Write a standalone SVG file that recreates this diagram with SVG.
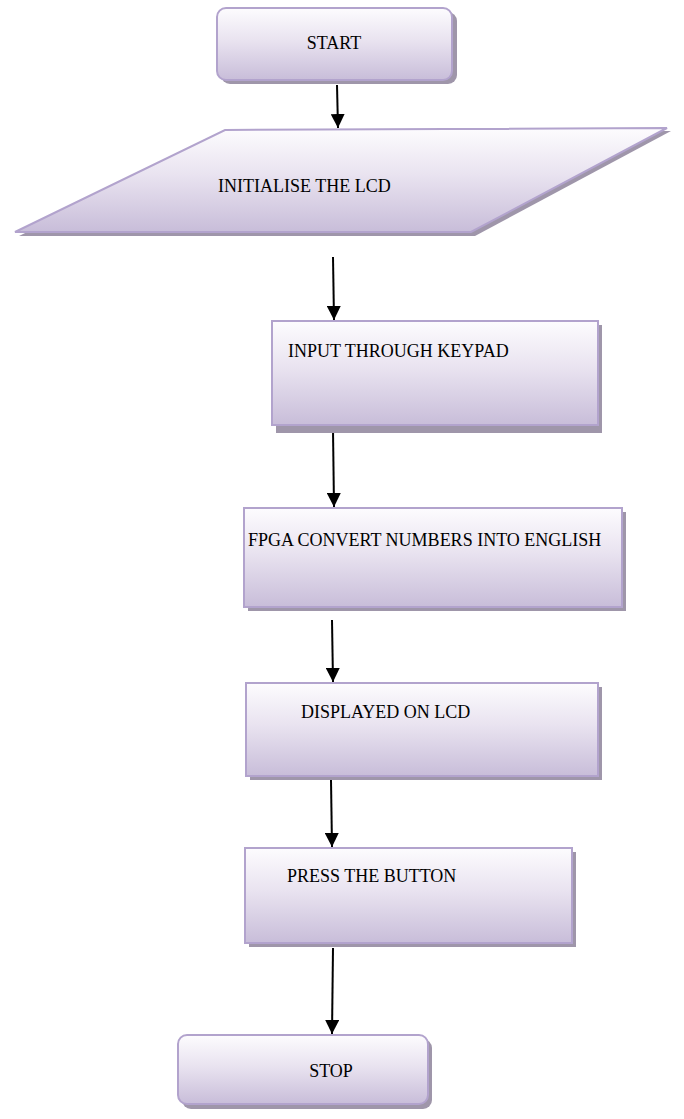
<svg xmlns="http://www.w3.org/2000/svg" width="684" height="1119" viewBox="0 0 684 1119">
  <defs>
    <linearGradient id="fill" x1="0" y1="0" x2="0" y2="1">
      <stop offset="0" stop-color="#fdfcfe"/>
      <stop offset="0.45" stop-color="#e9e3f0"/>
      <stop offset="1" stop-color="#c8bdd9"/>
    </linearGradient>
    <marker id="arrow" viewBox="0 0 14 14" refX="14" refY="7" markerWidth="14" markerHeight="14" orient="auto" markerUnits="userSpaceOnUse">
      <path d="M0,0 L14,7 L0,14 z" fill="#000"/>
    </marker>
  </defs>
  <style>
    .shadow { fill: #9f96aa; }
    .shape { fill: url(#fill); stroke: #b2a3cd; stroke-width: 2; }
    .label { font-family: "Liberation Serif", "Times New Roman", serif; font-size: 18px; fill: #000; }
    .flow { stroke: #000; stroke-width: 2; fill: none; marker-end: url(#arrow); }
  </style>

  <!-- connectors -->
  <g id="connectors">
    <line class="flow" x1="337" y1="85" x2="338" y2="128"/>
    <line class="flow" x1="333" y1="257" x2="334" y2="320"/>
    <line class="flow" x1="333" y1="430" x2="334" y2="507"/>
    <line class="flow" x1="332" y1="620" x2="333" y2="682"/>
    <line class="flow" x1="331" y1="780" x2="332" y2="847"/>
    <line class="flow" x1="333" y1="948" x2="332" y2="1034"/>
  </g>

  <!-- terminal: start -->
  <g id="start">
    <rect class="shadow" x="221" y="12" width="236" height="72" rx="9"/>
    <rect class="shape" x="217" y="8" width="235" height="72" rx="9"/>
    <text class="label" x="334" y="49" text-anchor="middle">START</text>
  </g>

  <!-- input/output: initialise -->
  <g id="initialise">
    <polygon class="shadow" points="229,133 671,131 475,236 19,236"/>
    <polygon class="shape" points="225,130 667,128 471,232 15,232"/>
    <text class="label" x="218" y="192">INITIALISE THE LCD</text>
  </g>

  <!-- process: keypad input -->
  <g id="keypad">
    <rect class="shadow" x="276" y="325" width="326" height="108"/>
    <rect class="shape" x="272" y="321" width="326" height="104"/>
    <text class="label" x="288" y="357">INPUT THROUGH KEYPAD</text>
  </g>

  <!-- process: conversion -->
  <g id="convert">
    <rect class="shadow" x="248" y="512" width="378" height="99"/>
    <rect class="shape" x="244" y="508" width="378" height="99"/>
    <text class="label" x="248" y="546">FPGA CONVERT NUMBERS INTO ENGLISH</text>
  </g>

  <!-- process: display -->
  <g id="display">
    <rect class="shadow" x="250" y="687" width="352" height="93"/>
    <rect class="shape" x="246" y="683" width="352" height="93"/>
    <text class="label" x="301" y="718">DISPLAYED ON LCD</text>
  </g>

  <!-- process: button -->
  <g id="button">
    <rect class="shadow" x="249" y="852" width="327" height="95"/>
    <rect class="shape" x="245" y="848" width="327" height="95"/>
    <text class="label" x="287" y="882">PRESS THE BUTTON</text>
  </g>

  <!-- terminal: stop -->
  <g id="stop">
    <rect class="shadow" x="182" y="1039" width="250" height="70" rx="9"/>
    <rect class="shape" x="178" y="1035" width="250" height="69" rx="9"/>
    <text class="label" x="331" y="1077" text-anchor="middle">STOP</text>
  </g>
</svg>
